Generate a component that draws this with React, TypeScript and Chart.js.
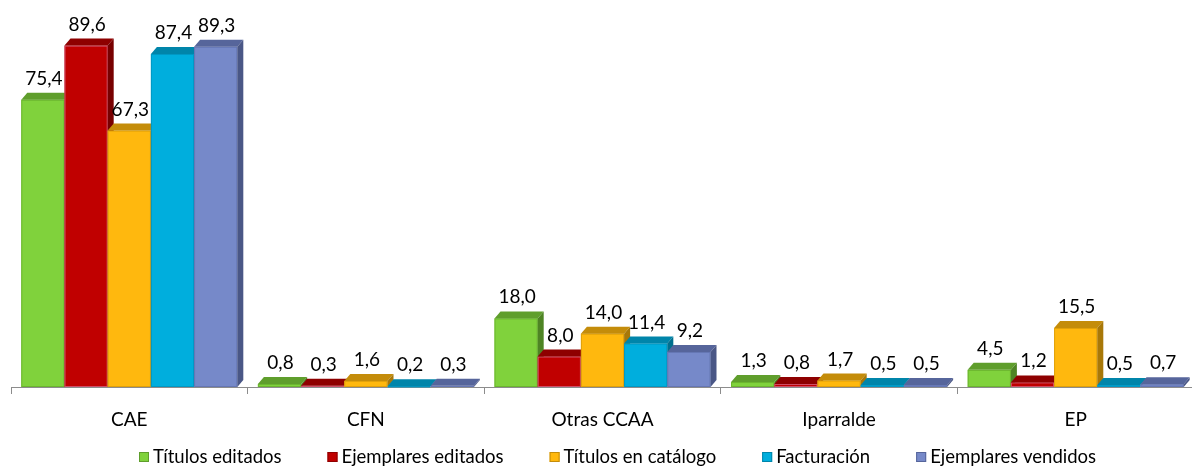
import React, { useEffect, useRef } from "react";
import { Chart, registerables } from "chart.js";

Chart.register(...registerables);

const categories = ["CAE", "CFN", "Otras CCAA", "Iparralde", "EP"];
const seriesNames = [
  "Títulos editados",
  "Ejemplares editados",
  "Títulos en catálogo",
  "Facturación",
  "Ejemplares vendidos",
];
const titulosEditados = [75.4, 0.8, 18.0, 1.3, 4.5];
const ejemplaresEditados = [89.6, 0.3, 8.0, 0.8, 1.2];
const titulosCatalogo = [67.3, 1.6, 14.0, 1.7, 15.5];
const facturacion = [87.4, 0.2, 11.4, 0.5, 0.5];
const ejemplaresVendidos = [89.3, 0.3, 9.2, 0.5, 0.7];

const frontColors = ["#80D23C", "#C00000", "#FFB80E", "#00AEDD", "#7689C9"];
const topColors = ["#5F9E2C", "#8E0000", "#C48C0A", "#0085AA", "#56659B"];
const sideColors = ["#4E8424", "#780000", "#A87808", "#006F8E", "#4A5786"];
const edgeColors = ["#6BB52F", "#D0506A", "#E0A00A", "#0098C4", "#6576B4"];

const FONT = "Lato, 'Open Sans', sans-serif";
const DX = 6;
const DY = 7;

const fmt = (v: number) => v.toFixed(1).replace(".", ",");

const bars3d = {
  id: "bars3d",
  afterDatasetsDraw(chart: any) {
    const ctx = chart.ctx as CanvasRenderingContext2D;
    const nCat = categories.length;
    const nDs = chart.data.datasets.length;
    const labels: { x: number; y: number; t: string }[] = [];
    ctx.save();
    for (let i = 0; i < nCat; i++) {
      for (let j = 0; j < nDs; j++) {
        const el = chart.getDatasetMeta(j).data[i];
        const p = el.getProps(["x", "y", "base", "width"], true);
        const left = p.x - p.width / 2;
        const right = p.x + p.width / 2;
        const top = p.y;
        const base = p.base;
        ctx.fillStyle = frontColors[j];
        ctx.fillRect(left, top, right - left, base - top);
        ctx.strokeStyle = edgeColors[j];
        ctx.lineWidth = 1;
        ctx.strokeRect(left + 0.5, top + 0.5, right - left - 1, Math.max(0, base - top - 1));
        ctx.fillStyle = topColors[j];
        ctx.beginPath();
        ctx.moveTo(left, top);
        ctx.lineTo(left + DX, top - DY);
        ctx.lineTo(right + DX, top - DY);
        ctx.lineTo(right, top);
        ctx.closePath();
        ctx.fill();
        ctx.fillStyle = sideColors[j];
        ctx.beginPath();
        ctx.moveTo(right, top);
        ctx.lineTo(right + DX, top - DY);
        ctx.lineTo(right + DX, base - DY);
        ctx.lineTo(right, base);
        ctx.closePath();
        ctx.fill();
        const v = chart.data.datasets[j].data[i];
        labels.push({ x: p.x + DX / 2 - 2, y: top - DY - 8, t: fmt(v) });
      }
    }
    ctx.fillStyle = "#000";
    ctx.font = `19px ${FONT}`;
    ctx.textAlign = "center";
    ctx.textBaseline = "alphabetic";
    for (const l of labels) ctx.fillText(l.t, l.x, l.y);
    ctx.restore();
  },
  afterDraw(chart: any) {
    const ctx = chart.ctx as CanvasRenderingContext2D;
    ctx.save();
    ctx.font = `18.5px ${FONT}`;
    ctx.textBaseline = "alphabetic";
    ctx.textAlign = "left";
    let x = 139;
    const yBox = 452;
    const gapItems = 46;
    seriesNames.forEach((name, j) => {
      ctx.fillStyle = frontColors[j];
      ctx.fillRect(x, yBox, 10, 10);
      ctx.strokeStyle = topColors[j];
      ctx.lineWidth = 1;
      ctx.strokeRect(x + 0.5, yBox + 0.5, 9, 9);
      ctx.fillStyle = "#000";
      ctx.fillText(name, x + 14, 463);
      x += 14 + ctx.measureText(name).width + gapItems;
    });
    ctx.restore();
  },
};

export default function App() {
  const ref = useRef<HTMLCanvasElement>(null);
  useEffect(() => {
    document.body.style.margin = "0";
    document.body.style.overflow = "hidden";
    const datasets = [
      titulosEditados,
      ejemplaresEditados,
      titulosCatalogo,
      facturacion,
      ejemplaresVendidos,
    ].map((d, j) => ({
      label: seriesNames[j],
      data: d,
      backgroundColor: "rgba(0,0,0,0)",
      borderWidth: 0,
      categoryPercentage: 0.913,
      barPercentage: 1,
    }));
    const chart = new Chart(ref.current!, {
      type: "bar",
      data: { labels: categories, datasets },
      options: {
        responsive: false,
        animation: false,
        layout: { padding: { left: 11, right: 6, top: 6, bottom: 0 } },
        plugins: { legend: { display: false }, tooltip: { enabled: false } },
        scales: {
          y: { display: false, min: 0, max: 100 },
          x: {
            afterFit: (s: any) => {
              s.height = 80;
            },
            border: { display: true, color: "#8C8C8C", width: 1 },
            grid: {
              display: true,
              drawOnChartArea: false,
              drawTicks: true,
              tickLength: 7,
              color: "#8C8C8C",
              offset: true,
            },
            ticks: {
              color: "#000",
              padding: 14,
              font: { family: FONT, size: 19 },
            },
          },
        },
      },
      plugins: [bars3d],
    });
    return () => chart.destroy();
  }, []);
  return (
    <canvas
      ref={ref}
      width={1200}
      height={467}
      style={{ display: "block", width: 1200, height: 467 }}
    />
  );
}
